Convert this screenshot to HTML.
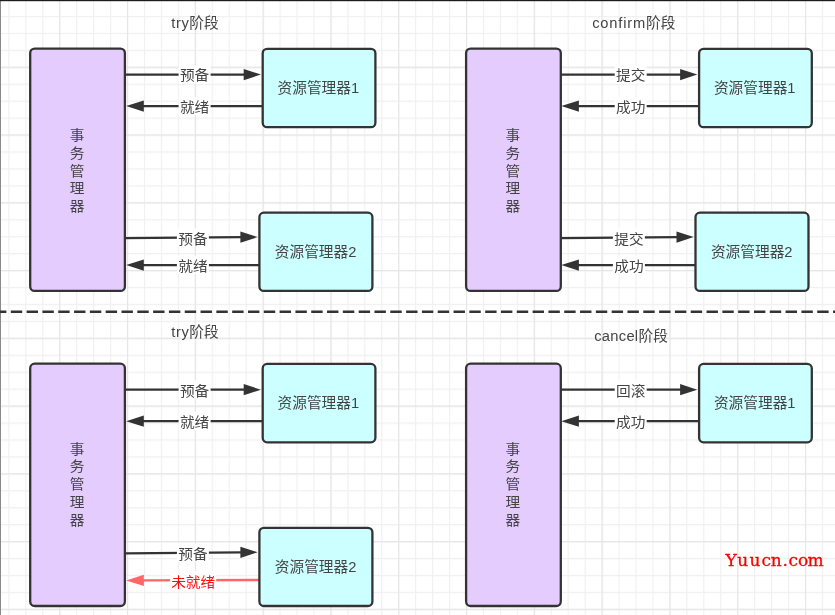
<!DOCTYPE html>
<html lang="zh-CN"><head><meta charset="utf-8"><title>TCC</title>
<style>
html,body{margin:0;padding:0;background:#fff;}
body{width:835px;height:615px;overflow:hidden;position:relative;}
svg{display:block;position:absolute;left:0;top:0;will-change:transform;}
text{font-family:"Liberation Sans","Noto Sans CJK SC",sans-serif;font-size:14.7px;fill:#444444;}
.lbl{text-anchor:middle;}
.red{fill:#ff0d0d;}
.wm{font-family:"DejaVu Serif","Liberation Serif",serif;font-size:17px;fill:#ff0000;stroke:#ff0000;stroke-width:0.3px;}
</style></head><body>
<svg width="835" height="615" viewBox="0 0 835 615">
<defs>
<pattern id="gmin" x="8.3" y="15.9" width="16.95" height="16.94" patternUnits="userSpaceOnUse"><path d="M0.5 0V16.94 M0 0.5H16.95" stroke="#f0f0f0" stroke-width="1.3" fill="none"/></pattern>
<pattern id="gmaj" x="59.2" y="66.7" width="67.8" height="67.76" patternUnits="userSpaceOnUse"><path d="M0.5 0V67.76 M0 0.5H67.8" stroke="#e6e6e6" stroke-width="1.3" fill="none"/></pattern>
</defs>
<rect width="835" height="615" fill="#ffffff"/>
<rect width="835" height="615" fill="url(#gmin)"/>
<rect width="835" height="615" fill="url(#gmaj)"/>
<rect x="0" y="0" width="1" height="615" fill="#8a8a8a"/>
<rect x="0" y="0" width="835" height="1.2" fill="#1c1c1c"/>
<line x1="-5.0" y1="311.7" x2="840" y2="311.7" stroke="#333333" stroke-width="2.4" stroke-dasharray="11.4 4.412"/>
<line x1="124.9" y1="74.6" x2="244.7" y2="74.6" stroke="#333333" stroke-width="2.3"/>
<path d="M260.9 74.6L243.7 80.2L243.7 69.0Z" fill="#333333"/>
<line x1="262.7" y1="106.1" x2="142.8" y2="106.1" stroke="#333333" stroke-width="2.3"/>
<path d="M126.2 106.1L143.8 100.5L143.8 111.7Z" fill="#333333"/>
<line x1="124.9" y1="238.2" x2="241.4" y2="237.2" stroke="#333333" stroke-width="2.3"/>
<path d="M257.6 237.1L240.4 242.8L240.4 231.6Z" fill="#333333"/>
<line x1="259.4" y1="265.1" x2="142.8" y2="265.1" stroke="#333333" stroke-width="2.3"/>
<path d="M126.2 265.1L143.8 259.5L143.8 270.7Z" fill="#333333"/>
<rect x="30.2" y="48.6" width="94.7" height="242.3" rx="4.5" ry="4.5" fill="#e5ccff" stroke="#333333" stroke-width="2.3"/>
<rect x="262.7" y="48.8" width="112.7" height="78.4" rx="4.5" ry="4.5" fill="#ccffff" stroke="#333333" stroke-width="2.3"/>
<rect x="259.4" y="212.7" width="113.0" height="78.2" rx="4.5" ry="4.5" fill="#ccffff" stroke="#333333" stroke-width="2.3"/>
<rect x="178.6" y="65.5" width="32.0" height="18" fill="#ffffff"/>
<text class="lbl" transform="translate(194.6 80.4) scale(1 0.95)">预备</text>
<rect x="178.6" y="97.1" width="32.0" height="18" fill="#ffffff"/>
<text class="lbl" transform="translate(194.6 112.0) scale(1 0.95)">就绪</text>
<rect x="176.9" y="228.6" width="32.0" height="18" fill="#ffffff"/>
<text class="lbl" transform="translate(192.9 243.5) scale(1 0.95)">预备</text>
<rect x="176.9" y="256.0" width="32.0" height="18" fill="#ffffff"/>
<text class="lbl" transform="translate(192.9 270.9) scale(1 0.95)">就绪</text>
<text class="lbl" transform="translate(318.3 93.3) scale(1 0.97)">资源管理器1</text>
<text class="lbl" transform="translate(315.6 257.1) scale(1 0.97)">资源管理器2</text>
<text class="lbl" transform="translate(77.0 0) scale(1 0.95)" x="0 0 0 0 0" y="147.4 166.2 184.9 203.6 222.4">事务管理器</text>
<text class="lbl" x="195.0" y="28.0"><tspan letter-spacing="0.6">try</tspan>阶段</text>
<line x1="560.8" y1="74.6" x2="681.1" y2="74.6" stroke="#333333" stroke-width="2.3"/>
<path d="M697.3 74.6L680.1 80.2L680.1 69.0Z" fill="#333333"/>
<line x1="699.1" y1="106.1" x2="577.9" y2="106.1" stroke="#333333" stroke-width="2.3"/>
<path d="M561.3 106.1L578.9 100.5L578.9 111.7Z" fill="#333333"/>
<line x1="560.8" y1="238.2" x2="677.5" y2="237.2" stroke="#333333" stroke-width="2.3"/>
<path d="M693.7 237.1L676.5 242.8L676.5 231.6Z" fill="#333333"/>
<line x1="695.5" y1="265.1" x2="577.9" y2="265.1" stroke="#333333" stroke-width="2.3"/>
<path d="M561.3 265.1L578.9 259.5L578.9 270.7Z" fill="#333333"/>
<rect x="466.1" y="48.6" width="94.7" height="242.3" rx="4.5" ry="4.5" fill="#e5ccff" stroke="#333333" stroke-width="2.3"/>
<rect x="699.1" y="48.8" width="112.7" height="78.4" rx="4.5" ry="4.5" fill="#ccffff" stroke="#333333" stroke-width="2.3"/>
<rect x="695.5" y="212.7" width="113.0" height="78.2" rx="4.5" ry="4.5" fill="#ccffff" stroke="#333333" stroke-width="2.3"/>
<rect x="614.7" y="65.5" width="32.0" height="18" fill="#ffffff"/>
<text class="lbl" transform="translate(630.7 80.4) scale(1 0.95)">提交</text>
<rect x="614.7" y="97.1" width="32.0" height="18" fill="#ffffff"/>
<text class="lbl" transform="translate(630.7 112.0) scale(1 0.95)">成功</text>
<rect x="612.9" y="228.6" width="32.0" height="18" fill="#ffffff"/>
<text class="lbl" transform="translate(628.9 243.5) scale(1 0.95)">提交</text>
<rect x="612.9" y="256.0" width="32.0" height="18" fill="#ffffff"/>
<text class="lbl" transform="translate(628.9 270.9) scale(1 0.95)">成功</text>
<text class="lbl" transform="translate(754.7 93.3) scale(1 0.97)">资源管理器1</text>
<text class="lbl" transform="translate(751.7 257.1) scale(1 0.97)">资源管理器2</text>
<text class="lbl" transform="translate(512.9 0) scale(1 0.95)" x="0 0 0 0 0" y="147.4 166.2 184.9 203.6 222.4">事务管理器</text>
<text class="lbl" x="633.8" y="28.0"><tspan letter-spacing="0.8">confirm</tspan>阶段</text>
<line x1="124.9" y1="389.7" x2="244.7" y2="389.7" stroke="#333333" stroke-width="2.3"/>
<path d="M260.9 389.7L243.7 395.3L243.7 384.1Z" fill="#333333"/>
<line x1="262.7" y1="421.2" x2="142.8" y2="421.2" stroke="#333333" stroke-width="2.3"/>
<path d="M126.2 421.2L143.8 415.6L143.8 426.8Z" fill="#333333"/>
<line x1="124.9" y1="553.3" x2="241.4" y2="552.3" stroke="#333333" stroke-width="2.3"/>
<path d="M257.6 552.2L240.4 557.9L240.4 546.7Z" fill="#333333"/>
<line x1="259.4" y1="580.0" x2="142.8" y2="580.4" stroke="#ff6666" stroke-width="2.3"/>
<path d="M126.2 580.5L143.8 574.8L143.9 586.0Z" fill="#ff6666"/>
<rect x="30.2" y="363.7" width="94.7" height="242.3" rx="4.5" ry="4.5" fill="#e5ccff" stroke="#333333" stroke-width="2.3"/>
<rect x="262.7" y="363.9" width="112.7" height="78.4" rx="4.5" ry="4.5" fill="#ccffff" stroke="#333333" stroke-width="2.3"/>
<rect x="259.4" y="527.8" width="113.0" height="78.2" rx="4.5" ry="4.5" fill="#ccffff" stroke="#333333" stroke-width="2.3"/>
<rect x="178.6" y="380.6" width="32.0" height="18" fill="#ffffff"/>
<text class="lbl" transform="translate(194.6 395.5) scale(1 0.95)">预备</text>
<rect x="178.6" y="412.2" width="32.0" height="18" fill="#ffffff"/>
<text class="lbl" transform="translate(194.6 427.1) scale(1 0.95)">就绪</text>
<rect x="176.9" y="543.7" width="32.0" height="18" fill="#ffffff"/>
<text class="lbl" transform="translate(192.9 558.6) scale(1 0.95)">预备</text>
<rect x="170.2" y="571.1" width="46.0" height="18" fill="#ffffff"/>
<text class="lbl red" transform="translate(193.2 586.5) scale(1 0.95)">未就绪</text>
<text class="lbl" transform="translate(318.3 408.4) scale(1 0.97)">资源管理器1</text>
<text class="lbl" transform="translate(315.6 572.2) scale(1 0.97)">资源管理器2</text>
<text class="lbl" transform="translate(77.0 0) scale(1 0.95)" x="0 0 0 0 0" y="477.4 496.2 514.9 533.6 552.4">事务管理器</text>
<text class="lbl" x="195.0" y="337.3"><tspan letter-spacing="0.6">try</tspan>阶段</text>
<line x1="560.8" y1="389.7" x2="681.1" y2="389.7" stroke="#333333" stroke-width="2.3"/>
<path d="M697.3 389.7L680.1 395.3L680.1 384.1Z" fill="#333333"/>
<line x1="699.1" y1="421.2" x2="577.9" y2="421.2" stroke="#333333" stroke-width="2.3"/>
<path d="M561.3 421.2L578.9 415.6L578.9 426.8Z" fill="#333333"/>
<rect x="466.1" y="363.7" width="94.7" height="242.3" rx="4.5" ry="4.5" fill="#e5ccff" stroke="#333333" stroke-width="2.3"/>
<rect x="699.1" y="363.9" width="112.7" height="78.4" rx="4.5" ry="4.5" fill="#ccffff" stroke="#333333" stroke-width="2.3"/>
<rect x="614.7" y="380.6" width="32.0" height="18" fill="#ffffff"/>
<text class="lbl" transform="translate(630.7 395.5) scale(1 0.95)">回滚</text>
<rect x="614.7" y="412.2" width="32.0" height="18" fill="#ffffff"/>
<text class="lbl" transform="translate(630.7 427.1) scale(1 0.95)">成功</text>
<text class="lbl" transform="translate(754.7 408.4) scale(1 0.97)">资源管理器1</text>
<text class="lbl" transform="translate(512.9 0) scale(1 0.95)" x="0 0 0 0 0" y="477.4 496.2 514.9 533.6 552.4">事务管理器</text>
<text class="lbl" x="631.0" y="340.6"><tspan letter-spacing="0.3">cancel</tspan>阶段</text>
<text class="wm" x="725.4 737.2 749.6 761.5 770.8 782.4 788.5 798.0 807.4" y="566.2">Yuucn.com</text>
</svg>
</body></html>
